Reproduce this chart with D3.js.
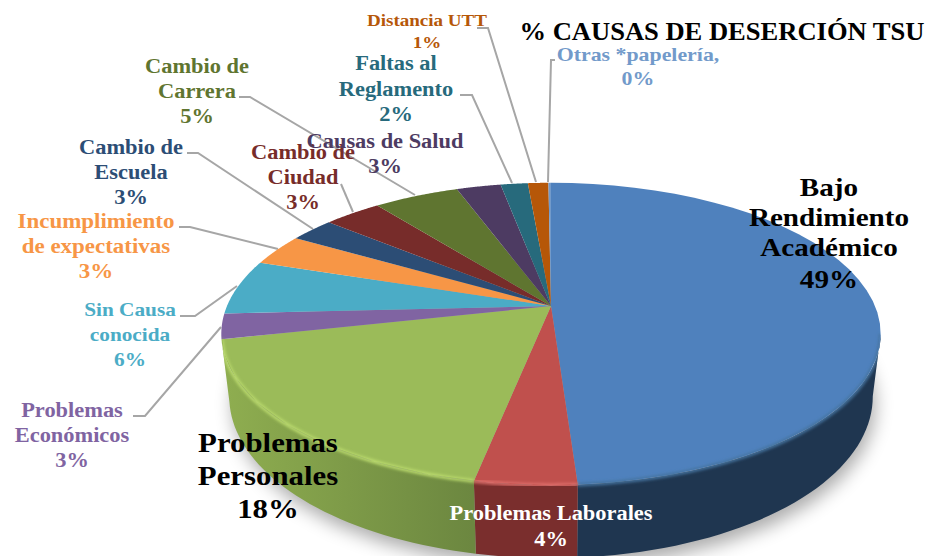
<!DOCTYPE html>
<html><head><meta charset="utf-8">
<script src="https://cdnjs.cloudflare.com/ajax/libs/d3/7.8.5/d3.min.js"></script>
<style>html,body{margin:0;padding:0;background:#fff;overflow:hidden}svg{display:block}
text{font-family:"Liberation Serif",serif;font-weight:bold;text-anchor:middle;dominant-baseline:central}</style>
</head><body><svg id="c" width="929" height="556"></svg>
<script>
// ---- data ----
const categories = ["Bajo Rendimiento Académico","Problemas Laborales","Problemas Personales","Problemas Económicos","Sin Causa conocida","Incumplimiento de expectativas","Cambio de Escuela","Cambio de Ciudad","Cambio de Carrera","Causas de Salud","Faltas al Reglamento","Distancia UTT","Otras *papelería,"];
const values = [49,4.2,18.4,2.7,5.9,3.4,2.6,3.4,5.0,2.6,1.6,1.2,0.15];
const percentLabels = ["49%","4%","18%","3%","6%","3%","3%","3%","5%","3%","2%","1%","0%"];
const title = "% CAUSAS DE DESERCIÓN TSU";
// ---- styling ----
const colors = ["#4f81bd","#c0504d","#9bbb59","#8064a2","#4bacc6","#f79646","#2c4d75","#772c2a","#5f7530","#4d3b62","#276a7c","#b65708","#729aca"];
const wallColors = {0:"#1f3650",1:"#7a2e2d",2:"#6f8a3f"};
const rimColors = {0:"#44739f",1:"#e0706c",2:"#bcdc6e"};
const labelLayout = [
 {i:0,x:829,y:[187,217,247,279],lines:["Bajo","Rendimiento","Académico","49%"],size:26,color:"#000"},
 {i:1,x:551,y:[513,539],lines:["Problemas Laborales","4%"],size:20,color:"#fff"},
 {i:2,x:268,y:[442,475,508],lines:["Problemas","Personales","18%"],size:27.5,color:"#000"},
 {i:3,x:72,y:[410,435,460],lines:["Problemas","Económicos","3%"],size:20},
 {i:4,x:130,y:[309,334,359],lines:["Sin Causa","conocida","6%"],size:19},
 {i:5,x:96,y:[221,246,271],lines:["Incumplimiento","de expectativas","3%"],size:20.5},
 {i:6,x:131,y:[147,172,197],lines:["Cambio de","Escuela","3%"],size:20},
 {i:7,x:303,y:[152,177,202],lines:["Cambio de","Ciudad","3%"],size:20},
 {i:8,x:197,y:[66,91,116],lines:["Cambio de","Carrera","5%"],size:20},
 {i:9,x:385,y:[141,166],lines:["Causas de Salud","3%"],size:20},
 {i:10,x:396,y:[63,89,114],lines:["Faltas al","Reglamento","2%"],size:20},
 {i:11,x:427,y:[20,42],lines:["Distancia UTT","1%"],size:17},
 {i:12,x:638,y:[54,78],lines:["Otras *papelería,","0%"],size:19.5}
];
const leaders = [
 [[477,28],[488,28],[536,182]],
 [[460,95],[472,95],[512,183]],
 [[555,60],[551,60],[548,182]],
 [[239,97],[250,97],[415,195]],
 [[187,153],[198,153],[313,229]],
 [[341,184],[353,212]],
 [[179,227],[190,227],[278,249]],
 [[180,316],[195,316],[237,286]],
 [[133,416],[145,416],[221,327]]
];
const widthStretch = 1.12;

// ---- projection of the pie disc (perspective, nearer edge larger) ----
const apex = {x:551,y:306}, R = 324, S = 146, k = 0.185;
const topPt = a => { const u=Math.sin(a), v=-Math.cos(a), w=1-k*v; return [apex.x+R*u/w, apex.y+S*v/w]; };
const botPt = a => { const u=Math.sin(a), v=-Math.cos(a); const w=1-k*v; return [apex.x+(R*0.976)*u/w, apex.y+S*v/w+(60+13*Math.max(0,v))]; };
const steps = (a,b) => d3.range(0,41).map(i=>a+(b-a)*i/40);
const line = d3.line();

const svg = d3.select("#c");
const defs = svg.append("defs");
const blur = (id,s)=>defs.append("filter").attr("id",id).attr("x","-20%").attr("y","-20%").attr("width","140%").attr("height","140%").append("feGaussianBlur").attr("stdDeviation",s);
blur("b8",9); blur("b2",1.6);
const gw = defs.append("linearGradient").attr("id","gw2").attr("gradientUnits","userSpaceOnUse").attr("x1",221).attr("x2",472).attr("y1",0).attr("y2",0);
gw.append("stop").attr("offset",0).attr("stop-color","#8fae50");
gw.append("stop").attr("offset",1).attr("stop-color","#6c8740");

const arcs = d3.pie().sort(null).value(d=>d)(values);
// visible wall range: from the right extreme to the left extreme of the disc
const wallStart = Math.PI/2 + Math.asin(k), wallEnd = 3*Math.PI/2 - Math.asin(k);
const wallPath = o => {
  const s=steps(Math.max(o.d.startAngle,wallStart),Math.min(o.d.endAngle,wallEnd));
  return line(s.map(topPt).concat(s.slice().reverse().map(botPt)))+"Z";
};
const items = arcs.map((d,i)=>({d,i}));
const front = items.filter(o=>wallColors[o.i]);

// clip for the bevel so that it stays on the pie body
const clip = defs.append("clipPath").attr("id","body");
clip.append("path").attr("d",line(steps(0,2*Math.PI).map(topPt))+"Z");
front.forEach(o=>clip.append("path").attr("d",wallPath(o)));

// drop shadow under the disc
const full = steps(0,2*Math.PI);
svg.append("path").attr("d",line(full.map(botPt))+"Z").attr("transform","translate(3,9)")
   .attr("fill","#000").attr("opacity",.33).attr("filter","url(#b8)");

// leader lines
svg.append("g").selectAll("path").data(leaders).join("path")
   .attr("d",d=>line(d)).attr("fill","none").attr("stroke","#a6a6a6").attr("stroke-width",2);

// walls
svg.append("g").selectAll("path").data(front).join("path")
   .attr("d",wallPath)
   .attr("fill",o=>o.i===2?"url(#gw2)":wallColors[o.i]);

// top slices
svg.append("g").selectAll("path").data(arcs).join("path")
   .attr("d",d=>line([[apex.x,apex.y]].concat(steps(d.startAngle,d.endAngle).map(topPt)))+"Z")
   .attr("fill",(d,i)=>colors[i]);

// bevel highlight on the front rim
svg.append("g").attr("clip-path","url(#body)").selectAll("path").data(front).join("path")
   .attr("d",o=>line(steps(Math.max(o.d.startAngle,wallStart),Math.min(o.d.endAngle,wallEnd)).map(topPt)))
   .attr("fill","none").attr("stroke",o=>rimColors[o.i]).attr("stroke-width",3.5).attr("filter","url(#b2)");

// labels
const lg = svg.append("g");
labelLayout.forEach(L=>{
  L.lines.forEach((t,j)=>{
    const n = lg.append("text").attr("x",L.x).attr("y",L.y[j]).attr("font-size",L.size)
      .attr("fill",L.color||colors[L.i]).text(t);
    n.attr("textLength",n.node().getComputedTextLength()*widthStretch).attr("lengthAdjust","spacingAndGlyphs");
  });
});
const tt = lg.append("text").attr("x",722).attr("y",31).attr("font-size",25).attr("fill","#000").text(title);
tt.attr("textLength",405).attr("lengthAdjust","spacingAndGlyphs");
</script></body></html>
